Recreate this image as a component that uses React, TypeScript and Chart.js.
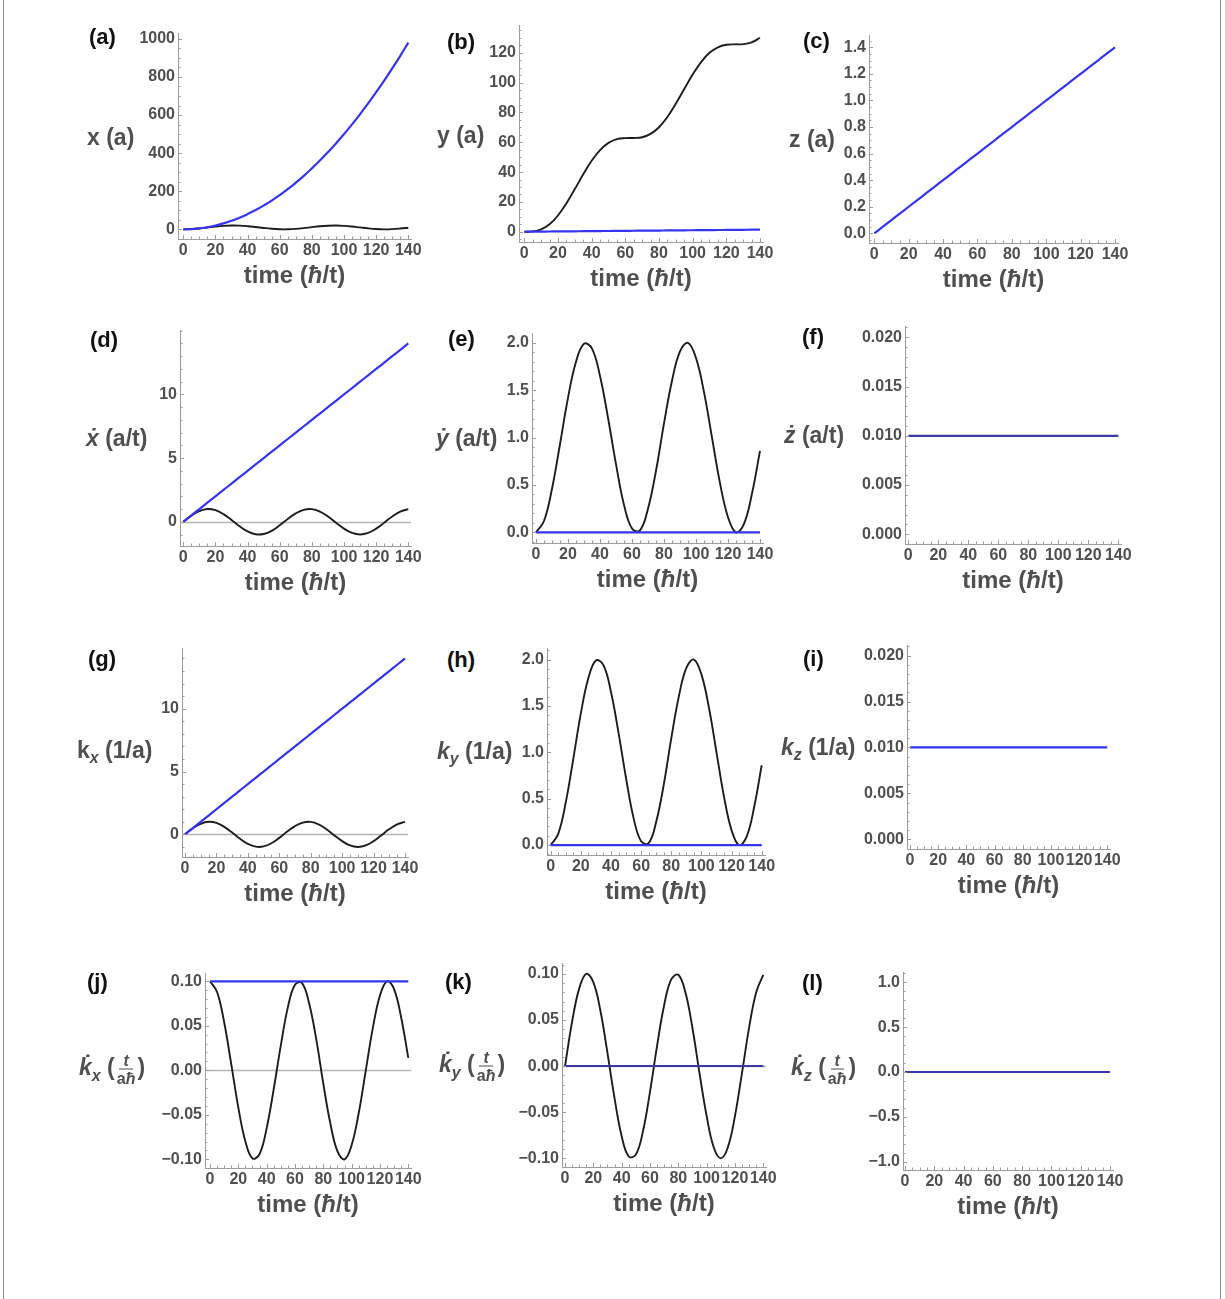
import React, { useEffect, useRef } from "react";
import { Chart, registerables } from "chart.js";
Chart.register(...registerables);

// ---------- data ----------
const TIME = [0, 5, 10, 15, 20, 25, 30, 35, 40, 45, 50, 55, 60, 65, 70, 75, 80, 85, 90, 95, 100, 105, 110, 115, 120, 125, 130, 135, 140];

const X_BLUE = [0, 1.2, 5, 11, 20, 31, 45, 61, 80, 101, 125, 151, 180, 211, 245, 281, 320, 361, 405, 451, 500, 551, 605, 661, 720, 781, 845, 911, 980];
const X_BLACK = [0, 1.2, 4.6, 9.3, 14.2, 18.0, 19.9, 19.4, 16.5, 12.1, 7.2, 2.9, 0.4, 0.2, 2.5, 6.5, 11.5, 16.0, 19.1, 20.0, 18.4, 14.8, 10.0, 5.2, 1.6, 0.0, 0.9, 4.1, 8.6];

const Y_BLACK = [0, 0.2, 1.6, 5.0, 10.9, 19.0, 28.6, 38.5, 47.6, 54.8, 59.6, 62.1, 62.8, 62.9, 63.4, 65.6, 70.1, 77.0, 85.9, 95.7, 105.4, 113.8, 120.0, 123.7, 125.4, 125.7, 125.8, 127.0, 130.1];
const Y_BLUE = [0, 0.05, 0.1, 0.15, 0.2, 0.25, 0.3, 0.35, 0.4, 0.45, 0.5, 0.55, 0.6, 0.65, 0.7, 0.75, 0.8, 0.85, 0.9, 0.95, 1.0, 1.05, 1.1, 1.15, 1.2, 1.25, 1.3, 1.35, 1.4];

const Z_BLUE = [0, 0.05, 0.1, 0.15, 0.2, 0.25, 0.3, 0.35, 0.4, 0.45, 0.5, 0.55, 0.6, 0.65, 0.7, 0.75, 0.8, 0.85, 0.9, 0.95, 1.0, 1.05, 1.1, 1.15, 1.2, 1.25, 1.3, 1.35, 1.4];

const VX_BLUE = [0, 0.5, 1, 1.5, 2, 2.5, 3, 3.5, 4, 4.5, 5, 5.5, 6, 6.5, 7, 7.5, 8, 8.5, 9, 9.5, 10, 10.5, 11, 11.5, 12, 12.5, 13, 13.5, 14];
const VX_BLACK = [0, 0.48, 0.84, 1.0, 0.91, 0.6, 0.14, -0.35, -0.76, -0.98, -0.96, -0.71, -0.28, 0.22, 0.66, 0.94, 0.99, 0.8, 0.41, -0.08, -0.54, -0.88, -1.0, -0.88, -0.54, -0.07, 0.42, 0.8, 0.99];

const VY_BLACK = [0, 0.12, 0.46, 0.93, 1.42, 1.8, 1.99, 1.94, 1.65, 1.21, 0.72, 0.29, 0.04, 0.02, 0.25, 0.65, 1.15, 1.6, 1.91, 2.0, 1.84, 1.48, 1.0, 0.52, 0.16, 0.0, 0.09, 0.41, 0.86];
const VY_BLUE = [0, 0, 0, 0, 0, 0, 0, 0, 0, 0, 0, 0, 0, 0, 0, 0, 0, 0, 0, 0, 0, 0, 0, 0, 0, 0, 0, 0, 0];

const VZ_BLUE = [0.01, 0.01, 0.01, 0.01, 0.01, 0.01, 0.01, 0.01, 0.01, 0.01, 0.01, 0.01, 0.01, 0.01, 0.01, 0.01, 0.01, 0.01, 0.01, 0.01, 0.01, 0.01, 0.01, 0.01, 0.01, 0.01, 0.01, 0.01, 0.01];

const KX_BLUE = [0, 0.5, 1, 1.5, 2, 2.5, 3, 3.5, 4, 4.5, 5, 5.5, 6, 6.5, 7, 7.5, 8, 8.5, 9, 9.5, 10, 10.5, 11, 11.5, 12, 12.5, 13, 13.5, 14];
const KX_BLACK = [0, 0.48, 0.84, 1.0, 0.91, 0.6, 0.14, -0.35, -0.76, -0.98, -0.96, -0.71, -0.28, 0.22, 0.66, 0.94, 0.99, 0.8, 0.41, -0.08, -0.54, -0.88, -1.0, -0.88, -0.54, -0.07, 0.42, 0.8, 0.99];

const KY_BLACK = [0, 0.12, 0.46, 0.93, 1.42, 1.8, 1.99, 1.94, 1.65, 1.21, 0.72, 0.29, 0.04, 0.02, 0.25, 0.65, 1.15, 1.6, 1.91, 2.0, 1.84, 1.48, 1.0, 0.52, 0.16, 0.0, 0.09, 0.41, 0.86];
const KY_BLUE = [0, 0, 0, 0, 0, 0, 0, 0, 0, 0, 0, 0, 0, 0, 0, 0, 0, 0, 0, 0, 0, 0, 0, 0, 0, 0, 0, 0, 0];

const KZ_BLUE = [0.01, 0.01, 0.01, 0.01, 0.01, 0.01, 0.01, 0.01, 0.01, 0.01, 0.01, 0.01, 0.01, 0.01, 0.01, 0.01, 0.01, 0.01, 0.01, 0.01, 0.01, 0.01, 0.01, 0.01, 0.01, 0.01, 0.01, 0.01, 0.01];

const DKX_BLACK = [0.1, 0.088, 0.054, 0.007, -0.042, -0.08, -0.099, -0.094, -0.065, -0.021, 0.028, 0.071, 0.096, 0.098, 0.075, 0.035, -0.015, -0.06, -0.091, -0.1, -0.084, -0.048, 0.0, 0.048, 0.084, 0.1, 0.091, 0.059, 0.014];
const DKX_BLUE = [0.1, 0.1, 0.1, 0.1, 0.1, 0.1, 0.1, 0.1, 0.1, 0.1, 0.1, 0.1, 0.1, 0.1, 0.1, 0.1, 0.1, 0.1, 0.1, 0.1, 0.1, 0.1, 0.1, 0.1, 0.1, 0.1, 0.1, 0.1, 0.1];

const DKY_BLACK = [0, 0.048, 0.084, 0.1, 0.091, 0.06, 0.014, -0.035, -0.076, -0.098, -0.096, -0.071, -0.028, 0.022, 0.066, 0.094, 0.099, 0.08, 0.041, -0.008, -0.054, -0.088, -0.1, -0.088, -0.054, -0.007, 0.042, 0.08, 0.099];
const DKY_BLUE = [0, 0, 0, 0, 0, 0, 0, 0, 0, 0, 0, 0, 0, 0, 0, 0, 0, 0, 0, 0, 0, 0, 0, 0, 0, 0, 0, 0, 0];

const DKZ_BLUE = [0, 0, 0, 0, 0, 0, 0, 0, 0, 0, 0, 0, 0, 0, 0, 0, 0, 0, 0, 0, 0, 0, 0, 0, 0, 0, 0, 0, 0];

// ---------- tick labels ----------
const X_TICKS = [0, 20, 40, 60, 80, 100, 120, 140];
const X_TICK_LABELS = ["0", "20", "40", "60", "80", "100", "120", "140"];

const A_YTICKS = [0, 200, 400, 600, 800, 1000];
const A_YLABELS = ["0", "200", "400", "600", "800", "1000"];
const B_YTICKS = [0, 20, 40, 60, 80, 100, 120];
const B_YLABELS = ["0", "20", "40", "60", "80", "100", "120"];
const C_YTICKS = [0, 0.2, 0.4, 0.6, 0.8, 1.0, 1.2, 1.4];
const C_YLABELS = ["0.0", "0.2", "0.4", "0.6", "0.8", "1.0", "1.2", "1.4"];
const D_YTICKS = [0, 5, 10];
const D_YLABELS = ["0", "5", "10"];
const E_YTICKS = [0, 0.5, 1.0, 1.5, 2.0];
const E_YLABELS = ["0.0", "0.5", "1.0", "1.5", "2.0"];
const F_YTICKS = [0, 0.005, 0.01, 0.015, 0.02];
const F_YLABELS = ["0.000", "0.005", "0.010", "0.015", "0.020"];
const J_YTICKS = [-0.1, -0.05, 0, 0.05, 0.1];
const J_YLABELS = ["\u22120.10", "\u22120.05", "0.00", "0.05", "0.10"];
const L_YTICKS = [-1, -0.5, 0, 0.5, 1];
const L_YLABELS = ["\u22121.0", "\u22120.5", "0.0", "0.5", "1.0"];

// ---------- styling ----------
const FONT = '"Liberation Sans", Arial, Helvetica, sans-serif';
const TICK_COLOR = "#4f4f4f";
const AXIS_COLOR = "#9c9c9c";
const BLUE = "#3535f0";
const BLUE_DARK = "#3a3aa6";
const BLACK = "#1d1d1d";
const WY = 70;
const PT = 12;
const PR = 26;
const HX = 30;

type Series = { v: number[]; c: string; w: number };
type PanelCfg = {
  id: string;
  L: number; T: number; R: number; B: number;
  tx0: number; tx140: number;
  yv: [number, number, number, number];
  yTicks: number[]; yLabels: string[]; yMinor: number;
  zero: boolean;
  series: Series[];
};

const PANELS: PanelCfg[] = [
  { id: "a", L: 178, T: 33, R: 411, B: 239, tx0: 183.3, tx140: 408.3, yv: [0, 229.3, 1000, 38.3], yTicks: A_YTICKS, yLabels: A_YLABELS, yMinor: 50, zero: false,
    series: [{ v: X_BLUE, c: BLUE, w: 2.2 }, { v: X_BLACK, c: BLACK, w: 1.9 }] },
  { id: "b", L: 519, T: 25, R: 763, B: 242, tx0: 524.3, tx140: 760, yv: [0, 231.7, 120, 52.3], yTicks: B_YTICKS, yLabels: B_YLABELS, yMinor: 5, zero: false,
    series: [{ v: Y_BLUE, c: BLUE, w: 2.2 }, { v: Y_BLACK, c: BLACK, w: 1.9 }] },
  { id: "c", L: 869, T: 35, R: 1118, B: 243, tx0: 874.3, tx140: 1115, yv: [0, 233.3, 1.4, 46.7], yTicks: C_YTICKS, yLabels: C_YLABELS, yMinor: 0.05, zero: false,
    series: [{ v: Z_BLUE, c: BLUE, w: 2.2 }] },
  { id: "d", L: 180, T: 330, R: 411, B: 546, tx0: 183.3, tx140: 408.3, yv: [0, 521.7, 10, 394], yTicks: D_YTICKS, yLabels: D_YLABELS, yMinor: 1, zero: true,
    series: [{ v: VX_BLUE, c: BLUE, w: 2.2 }, { v: VX_BLACK, c: BLACK, w: 1.9 }] },
  { id: "e", L: 532, T: 333, R: 763, B: 543, tx0: 536, tx140: 760, yv: [0, 532.3, 2, 342.3], yTicks: E_YTICKS, yLabels: E_YLABELS, yMinor: 0.1, zero: false,
    series: [{ v: VY_BLUE, c: BLUE, w: 2.2 }, { v: VY_BLACK, c: BLACK, w: 1.9 }] },
  { id: "f", L: 905, T: 326, R: 1121, B: 544, tx0: 908.3, tx140: 1118.3, yv: [0, 534.3, 0.02, 336.7], yTicks: F_YTICKS, yLabels: F_YLABELS, yMinor: 0.001, zero: false,
    series: [{ v: VZ_BLUE, c: BLUE_DARK, w: 2.2 }] },
  { id: "g", L: 182, T: 648, R: 408, B: 857, tx0: 185, tx140: 405, yv: [0, 834.3, 10, 708.3], yTicks: D_YTICKS, yLabels: D_YLABELS, yMinor: 1, zero: true,
    series: [{ v: KX_BLUE, c: BLUE, w: 2.2 }, { v: KX_BLACK, c: BLACK, w: 1.9 }] },
  { id: "h", L: 547, T: 648, R: 765, B: 855, tx0: 550.7, tx140: 761.7, yv: [0, 845, 2, 659], yTicks: E_YTICKS, yLabels: E_YLABELS, yMinor: 0.1, zero: false,
    series: [{ v: KY_BLUE, c: BLUE, w: 2.2 }, { v: KY_BLACK, c: BLACK, w: 1.9 }] },
  { id: "i", L: 907, T: 645, R: 1110, B: 849, tx0: 910, tx140: 1107.3, yv: [0, 839.3, 0.02, 655], yTicks: F_YTICKS, yLabels: F_YLABELS, yMinor: 0.001, zero: false,
    series: [{ v: KZ_BLUE, c: BLUE, w: 2.2 }] },
  { id: "j", L: 205, T: 973, R: 411, B: 1168, tx0: 210, tx140: 408.3, yv: [-0.1, 1159.3, 0.1, 980.7], yTicks: J_YTICKS, yLabels: J_YLABELS, yMinor: 0.01, zero: true,
    series: [{ v: DKX_BLUE, c: BLUE, w: 2.2 }, { v: DKX_BLACK, c: BLACK, w: 1.9 }] },
  { id: "k", L: 562, T: 963, R: 766, B: 1167, tx0: 565, tx140: 763.3, yv: [-0.1, 1158.3, 0.1, 973.3], yTicks: J_YTICKS, yLabels: J_YLABELS, yMinor: 0.01, zero: true,
    series: [{ v: DKY_BLUE, c: BLUE_DARK, w: 2.0 }, { v: DKY_BLACK, c: BLACK, w: 1.9 }] },
  { id: "l", L: 903, T: 972, R: 1113, B: 1170, tx0: 905, tx140: 1110, yv: [-1, 1161.7, 1, 981.7], yTicks: L_YTICKS, yLabels: L_YLABELS, yMinor: 0.1, zero: false,
    series: [{ v: DKZ_BLUE, c: BLUE_DARK, w: 2.2 }] },
];

// axis decoration: Mathematica-like inward ticks and the grey zero axis line
const decor = {
  id: "decor",
  beforeDatasetsDraw(chart: any, _args: any, opts: any) {
    if (!opts || !opts.zero) return;
    const { ctx, chartArea } = chart;
    const y = Math.round(chart.scales.y.getPixelForValue(0)) + 0.5;
    ctx.save();
    ctx.strokeStyle = "#b4b4b4";
    ctx.lineWidth = 1.3;
    ctx.beginPath();
    ctx.moveTo(chartArea.left, y);
    ctx.lineTo(chartArea.right, y);
    ctx.stroke();
    ctx.restore();
  },
  afterDraw(chart: any, _args: any, opts: any) {
    const { ctx, chartArea } = chart;
    const xs = chart.scales.x;
    const ys = chart.scales.y;
    ctx.save();
    ctx.strokeStyle = AXIS_COLOR;
    ctx.lineWidth = 1;
    const near = (a: number, b: number, s: number) => Math.abs(a - b) < s * 1e-3;
    for (let v = 0; v <= 140 + 1e-9; v += 5) {
      const major = X_TICKS.some((m) => near(m, v, 5));
      const px = Math.round(xs.getPixelForValue(v)) + 0.5;
      const len = major ? 4 : 2.5;
      ctx.beginPath();
      ctx.moveTo(px, chartArea.bottom);
      ctx.lineTo(px, chartArea.bottom - len);
      ctx.stroke();
    }
    const step = opts.yMinor;
    const i0 = Math.ceil(ys.min / step - 1e-6);
    const i1 = Math.floor(ys.max / step + 1e-6);
    for (let i = i0; i <= i1; i++) {
      const v = i * step;
      const major = (opts.yTicks as number[]).some((m) => near(m, v, step));
      const py = Math.round(ys.getPixelForValue(v)) + 0.5;
      const len = major ? 4 : 2.5;
      ctx.beginPath();
      ctx.moveTo(chartArea.left, py);
      ctx.lineTo(chartArea.left + len, py);
      ctx.stroke();
    }
    ctx.restore();
  },
};

function Panel({ cfg }: { cfg: PanelCfg }) {
  const ref = useRef<HTMLCanvasElement | null>(null);
  const width = cfg.R - cfg.L + WY + PR;
  const height = cfg.B - cfg.T + PT + HX;

  useEffect(() => {
    const canvas = ref.current;
    if (!canvas) return;
    const kx = (cfg.tx140 - cfg.tx0) / 140;
    const xmin = (cfg.L - cfg.tx0) / kx;
    const xmax = (cfg.R - cfg.tx0) / kx;
    const [v1, p1, v2, p2] = cfg.yv;
    const ky = (p1 - p2) / (v2 - v1);
    const ymin = v1 - (cfg.B - p1) / ky;
    const ymax = v1 + (p1 - cfg.T) / ky;

    const tickFont = { family: FONT, size: 16, weight: "bold" as const };

    const chart = new Chart(canvas, {
      type: "line",
      data: {
        datasets: cfg.series.map((s) => ({
          data: TIME.map((t, i) => ({ x: t, y: s.v[i] })),
          borderColor: s.c,
          borderWidth: s.w,
          pointRadius: 0,
          tension: 0.4,
          fill: false,
        })),
      },
      options: {
        responsive: false,
        animation: false,
        devicePixelRatio: 1,
        layout: { padding: { top: PT, right: PR, left: 0, bottom: 0 } },
        plugins: {
          legend: { display: false },
          tooltip: { enabled: false },
          title: { display: false },
          decor: { zero: cfg.zero, yMinor: cfg.yMinor, yTicks: cfg.yTicks },
        } as any,
        scales: {
          x: {
            type: "linear",
            min: xmin,
            max: xmax,
            bounds: "data",
            afterBuildTicks: (s: any) => {
              s.ticks = X_TICKS.map((v) => ({ value: v }));
            },
            afterFit: (s: any) => {
              s.height = HX;
            },
            ticks: {
              autoSkip: false,
              maxRotation: 0,
              minRotation: 0,
              padding: 2,
              font: tickFont,
              color: TICK_COLOR,
              callback: (_v: any, i: number) => X_TICK_LABELS[i],
            },
            grid: { display: false, drawTicks: false },
            border: { display: true, color: AXIS_COLOR, width: 1 },
          },
          y: {
            type: "linear",
            min: ymin,
            max: ymax,
            bounds: "data",
            afterBuildTicks: (s: any) => {
              s.ticks = cfg.yTicks.map((v) => ({ value: v }));
            },
            afterFit: (s: any) => {
              s.width = WY;
            },
            ticks: {
              autoSkip: false,
              padding: 3,
              font: tickFont,
              color: TICK_COLOR,
              callback: (_v: any, i: number) => cfg.yLabels[i],
            },
            grid: { display: false, drawTicks: false },
            border: { display: true, color: AXIS_COLOR, width: 1 },
          },
        },
      } as any,
      plugins: [decor as any],
    });
    return () => chart.destroy();
  }, [cfg]);

  return (
    <canvas
      ref={ref}
      width={width}
      height={height}
      style={{ position: "absolute", left: cfg.L - WY, top: cfg.T - PT, width, height }}
    />
  );
}

const Frac = () => (
  <span
    style={{
      display: "inline-flex",
      flexDirection: "column",
      alignItems: "center",
      verticalAlign: "middle",
      fontSize: 16,
      lineHeight: "15px",
      margin: "0 2px",
    }}
  >
    <span style={{ borderBottom: "1.6px solid #4f4f4f", padding: "0 4px 1px" }}>
      <i>t</i>
    </span>
    <span style={{ paddingTop: 1 }}>
      a<i>ħ</i>
    </span>
  </span>
);

const Sub = ({ c }: { c: string }) => (
  <span style={{ fontSize: 16, position: "relative", top: 5 }}>
    <i>{c}</i>
  </span>
);

const Y_TITLES: { left: number; cy: number; node: React.ReactNode }[] = [
  { left: 87, cy: 137, node: <>x (a)</> },
  { left: 437, cy: 135, node: <>y (a)</> },
  { left: 789, cy: 139, node: <>z (a)</> },
  { left: 86, cy: 438, node: <><i>ẋ</i> (a/t)</> },
  { left: 436, cy: 438, node: <><i>ẏ</i> (a/t)</> },
  { left: 784, cy: 435, node: <><i>ż</i> (a/t)</> },
  { left: 77, cy: 750, node: <>k<Sub c="x" /> (1/a)</> },
  { left: 437, cy: 751, node: <><i>k</i><Sub c="y" /> (1/a)</> },
  { left: 781, cy: 747, node: <><i>k</i><Sub c="z" /> (1/a)</> },
  { left: 79, cy: 1069, node: <><i>k{"\u0307"}</i><Sub c="x" /> (<Frac />)</> },
  { left: 439, cy: 1066, node: <><i>k{"\u0307"}</i><Sub c="y" /> (<Frac />)</> },
  { left: 791, cy: 1069, node: <><i>k{"\u0307"}</i><Sub c="z" /> (<Frac />)</> },
];

const LETTERS: { t: string; left: number; cy: number }[] = [
  { t: "(a)", left: 89, cy: 37 },
  { t: "(b)", left: 447, cy: 42 },
  { t: "(c)", left: 803, cy: 41 },
  { t: "(d)", left: 90, cy: 340 },
  { t: "(e)", left: 448, cy: 339 },
  { t: "(f)", left: 802, cy: 337 },
  { t: "(g)", left: 88, cy: 659 },
  { t: "(h)", left: 447, cy: 660 },
  { t: "(i)", left: 803, cy: 659 },
  { t: "(j)", left: 87, cy: 982 },
  { t: "(k)", left: 445, cy: 982 },
  { t: "(l)", left: 802, cy: 983 },
];

export default function App() {
  return (
    <div
      style={{
        position: "absolute",
        left: 0,
        top: 0,
        width: 1225,
        height: 1299,
        background: "#fff",
        overflow: "hidden",
        fontFamily: FONT,
      }}
    >
      <div style={{ position: "absolute", left: 3, top: 0, width: 1, height: 1299, background: "#8a8a8a" }} />
      <div style={{ position: "absolute", left: 1220, top: 0, width: 1, height: 1299, background: "#8a8a8a" }} />
      {PANELS.map((p) => (
        <Panel key={p.id} cfg={p} />
      ))}
      {PANELS.map((p) => (
        <div
          key={"xt" + p.id}
          style={{
            position: "absolute",
            left: (p.L + p.R) / 2,
            top: p.B + 36,
            transform: "translate(-50%, -50%)",
            whiteSpace: "nowrap",
            fontWeight: "bold",
            fontSize: 24,
            color: "#4f4f4f",
          }}
        >
          time (<i>ħ</i>/t)
        </div>
      ))}
      {Y_TITLES.map((y, i) => (
        <div
          key={"yt" + i}
          style={{
            position: "absolute",
            left: y.left,
            top: y.cy,
            transform: "translateY(-50%)",
            whiteSpace: "nowrap",
            fontWeight: "bold",
            fontSize: 23,
            color: "#4f4f4f",
          }}
        >
          {y.node}
        </div>
      ))}
      {LETTERS.map((l) => (
        <div
          key={l.t}
          style={{
            position: "absolute",
            left: l.left,
            top: l.cy,
            transform: "translateY(-50%)",
            fontWeight: "bold",
            fontSize: 22,
            color: "#111",
          }}
        >
          {l.t}
        </div>
      ))}
    </div>
  );
}
